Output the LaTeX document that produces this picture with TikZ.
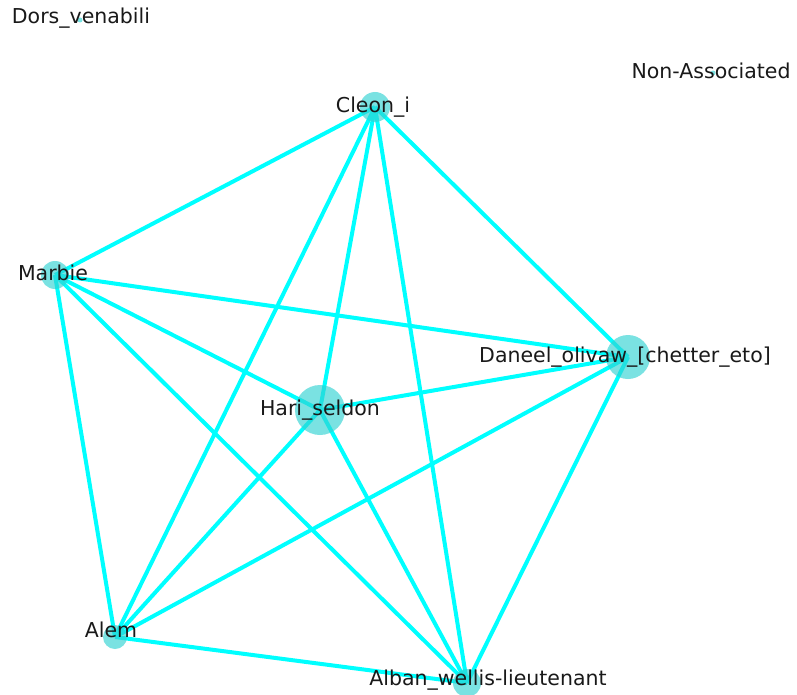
\documentclass[tikz,border=0pt]{standalone}
\usepackage{fontspec}
\setmainfont{DejaVu Sans}
\definecolor{edgec}{RGB}{0,255,255}
\definecolor{nodec}{RGB}{50,210,210}
\begin{document}
\begin{tikzpicture}[x=1pt,y=-1pt,
  vert/.style={circle,fill=nodec,fill opacity=0.65,inner sep=0pt,draw=none},
  lab/.style={font=\fontsize{20.5}{20.5}\selectfont,text=black!90,inner sep=0pt,anchor=center},
  link/.style={draw=edgec,line width=4pt}]
\useasboundingbox (0,0) rectangle (797,695);
% vertices (positions)
\coordinate (cleon) at (375,107);
\coordinate (marbie) at (55,275);
\coordinate (hari) at (320,410);
\coordinate (daneel) at (628,357);
\coordinate (alem) at (115,637);
\coordinate (alban) at (467,683);
\coordinate (dors) at (80,20);
\coordinate (nona) at (713,73);
% edges
\foreach \a/\b in {cleon/marbie,cleon/daneel,cleon/hari,cleon/alem,cleon/alban,
  marbie/daneel,marbie/hari,marbie/alem,marbie/alban,
  daneel/hari,daneel/alem,daneel/alban,
  hari/alem,hari/alban,alem/alban}
  \draw[link] (\a) -- (\b);
% node discs
\node[vert,minimum size=30pt] (ncleon) at (cleon) {};
\node[vert,minimum size=28pt] (nmarbie) at (marbie) {};
\node[vert,minimum size=50pt] (nhari) at (hari) {};
\node[vert,minimum size=44pt] (ndaneel) at (daneel) {};
\node[vert,minimum size=24pt] (nalem) at (alem) {};
\node[vert,minimum size=28pt] (nalban) at (alban) {};
\node[vert,minimum size=5pt] (ndors) at (dors) {};
\node[vert,minimum size=5pt] (nnona) at (nona) {};
% labels
\node[lab] (lcleon) at (373,107) {Cleon\_i};
\node[lab] (lmarbie) at (53,273) {Marbie};
\node[lab] (lhari) at (320,410) {Hari\_seldon};
\node[lab] (ldaneel) at (625,357) {Daneel\_olivaw\_[chetter\_eto]};
\node[lab] (lalem) at (111,630) {Alem};
\node[lab] (lalban) at (488,680) {Alban\_wellis-lieutenant};
\node[lab] (ldors) at (81,18) {Dors\_venabili};
\node[lab] (lnona) at (711,71) {Non-Associated};
\end{tikzpicture}
\end{document}
